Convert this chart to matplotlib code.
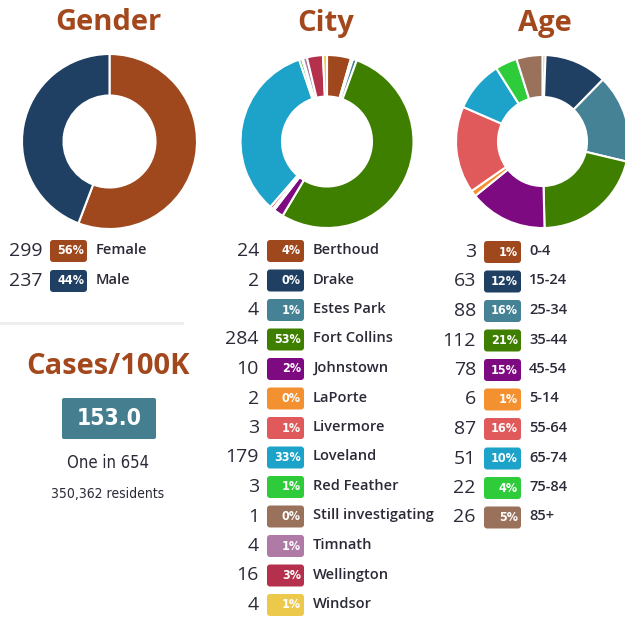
import matplotlib as mpl
mpl.use('Agg')
import matplotlib.pyplot as plt
from matplotlib.patches import FancyBboxPatch

# data
gender_labels = ['Female', 'Male']
gender_counts = [299, 237]
city_labels = ['Berthoud', 'Drake', 'Estes Park', 'Fort Collins', 'Johnstown',
               'LaPorte', 'Livermore', 'Loveland', 'Red Feather',
               'Still investigating', 'Timnath', 'Wellington', 'Windsor']
city_counts = [24, 2, 4, 284, 10, 2, 3, 179, 3, 1, 4, 16, 4]
age_labels = ['0-4', '15-24', '25-34', '35-44', '45-54', '5-14', '55-64',
              '65-74', '75-84', '85+']
age_counts = [3, 63, 88, 112, 78, 6, 87, 51, 22, 26]
rate_per_100k = '153.0'
one_in = 'One in 654'
residents = '350,362 residents'

palette = ['#a0481d', '#1f3f63', '#468295', '#3f7f00', '#7d0a80', '#f39130',
           '#e05a5b', '#1da3c9', '#2ecc3a', '#9a715a', '#b07aa7', '#b5304d',
           '#ecc94b']
title_col = '#a3481c'
text_col = '#2a2a38'
narrow = dict(family=['DejaVu Sans'], fontstretch='condensed')

W, H = 625, 618
fig = plt.figure(figsize=(W / 100, H / 100), dpi=100)
ax = fig.add_axes([0, 0, 1, 1])


def Y(y):
    # top-down pixel row -> data y
    return H - y


def donut(counts, cx, cy, r, ri):
    ax.pie(counts, colors=palette[:len(counts)], center=(cx, Y(cy)), radius=r,
           startangle=90, counterclock=False, frame=True,
           wedgeprops=dict(width=r - ri, edgecolor='white', linewidth=1.5))


def legend(labels, counts, xnum, xbadge, xlab, y0, step):
    total = sum(counts)
    for i, (lab, n) in enumerate(zip(labels, counts)):
        y = Y(y0 + i * step)
        ax.text(xnum, y, str(n), ha='right', va='center', fontsize=14,
                family='Open Sans', color=text_col)
        ax.add_patch(FancyBboxPatch((xbadge, y - 11), 37, 22,
                                    boxstyle='round,pad=0,rounding_size=3',
                                    fc=palette[i], ec='none'))
        ax.text(xbadge + 34, y, '%d%%' % round(100.0 * n / total), ha='right',
                va='center', fontsize=9, weight='bold', color='white',
                **narrow)
        ax.text(xlab, y + 1, lab, ha='left', va='center', fontsize=10.5,
                family='Open Sans', weight='semibold', color=text_col)


for title, x in [('Gender', 108), ('City', 326), ('Age', 545)]:
    ax.text(x, Y(23), title, ha='center', va='center', fontsize=21,
            weight='bold', family='Open Sans', color=title_col)

donut(gender_counts, 109.5, 141.5, 87.5, 46)
donut(city_counts, 327, 141.5, 86.5, 45)
donut(age_counts, 542.5, 141.5, 86.5, 44.5)

legend(gender_labels, gender_counts, 43, 50, 96, 251, 30)
legend(city_labels, city_counts, 259, 267, 313, 251, 29.5)
legend(age_labels, age_counts, 476, 484, 529, 252, 29.5)

# separator and cases block
ax.plot([0, 182], [Y(323), Y(323)], color='#eeeeee', lw=2)
ax.text(108, Y(367), 'Cases/100K', ha='center', va='center', fontsize=21,
        weight='bold', family='Open Sans', color=title_col)
ax.add_patch(FancyBboxPatch((62, Y(439)), 94, 41,
                            boxstyle='round,pad=0,rounding_size=2',
                            fc='#457f8f', ec='none'))
ax.text(109, Y(418.5), rate_per_100k, ha='center', va='center', fontsize=16.5,
        color='white', weight='semibold', **narrow)
ax.text(108, Y(463), one_in, ha='center', va='center', fontsize=12,
        color=text_col, **narrow)
ax.text(108, Y(494), residents, ha='center', va='center', fontsize=10,
        color=text_col, **narrow)

ax.set_xlim(0, W)
ax.set_ylim(0, H)
ax.set_aspect('auto')
ax.axis('off')
fig.savefig('out.png', dpi=100, facecolor='white')
